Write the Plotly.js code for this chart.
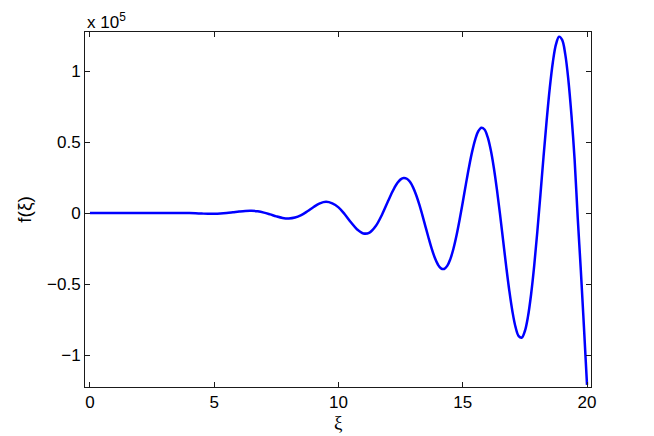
<!DOCTYPE html>
<html>
<head>
<meta charset="utf-8">
<script src="https://cdn.plot.ly/plotly-3.0.1.min.js"></script>
<style>html,body{margin:0;padding:0;background:#fff}#chart{width:654px;height:436px}</style>
</head>
<body>
<div id="chart"></div>
<script>
// ξ values
const xi = [0,0.25,0.5,0.75,1,1.25,1.5,1.75,2,2.25,2.5,2.75,3,3.25,3.5,3.75,4,4.25,4.5,4.75,
  5,5.25,5.5,5.75,6,6.25,6.5,6.75,7,7.25,7.5,7.75,8,8.25,8.5,8.75,9,9.25,9.5,9.75,
  10,10.25,10.5,10.75,11,11.25,11.5,11.75,
  12,12.125,12.25,12.375,12.5,12.625,12.75,12.875,13,13.125,13.25,13.375,13.5,13.625,13.75,13.875,
  14,14.125,14.25,14.375,14.5,14.625,14.75,14.875,15,15.125,15.25,15.375,15.5,15.625,15.75,15.875,
  16,16.125,16.25,16.375,16.5,16.625,16.75,16.875,17,17.125,17.25,17.375,17.5,17.625,17.75,17.875,
  18,18.125,18.25,18.375,18.5,18.625,18.75,18.875,19,19.125,19.25,19.375,19.5,19.625,19.75,19.875,20];
// f(ξ) values
const f = [0,0,0,0,0,-2,-5,-9,-10,-5,11,40,76,107,111,67,-37,-193,-366,-498,
  -514,-354,4,518,1072,1492,1587,1210,322,-961,-2356,-3460,-3844,-3188,-1408,1236,4246,6808,7892,6823,
  3999,-860,-6524,-11537,-14348,-13709,-9132,-1158,
  8620,13450,17796,21321,23715,24725,24170,21960,18107,12744,6104,-1458,-9511,-17552,-25043,-31450,
  -36240,-38999,-39383,-37201,-32408,-25148,-15692,-4558,7655,20213,32279,43060,51741,57612,60093,58800,
  53577,44504,31932,16509,-966,-19487,-37884,-54930,-69459,-80332,-86624,-87663,-83062,-72780,-57180,-37048,
  -13168,12829,39636,65066,87862,106228,118726,124225,121980,111720,93675,68622,37777,-3000,-40000,-80000,-121000];
const xTicks = [0,5,10,15,20];
const yTickVals = [-100000,-50000,0,50000,100000];
const yTickText = ['\u22121','\u22120.5','0','0.5','1'];

const axisCommon = {
  showline:true, linecolor:'#1a1a1a', linewidth:1, mirror:'allticks',
  ticks:'inside', ticklen:5, tickcolor:'#1a1a1a', showgrid:false, zeroline:false,
  tickfont:{family:'Liberation Sans, Arial, sans-serif', size:17, color:'#000'}
};

Plotly.newPlot('chart', [{
  x: xi, y: f, type:'scatter', mode:'lines',
  line:{color:'#0000FF', width:2.5, shape:'spline', smoothing:1}
}], {
  width:654, height:436,
  margin:{l:85, r:63, t:32, b:49},
  paper_bgcolor:'#fff', plot_bgcolor:'#fff',
  showlegend:false,
  xaxis: Object.assign({}, axisCommon, {
    range:[-0.2, 20.16], tickvals:xTicks, ticktext:xTicks.map(String)
  }),
  yaxis: Object.assign({}, axisCommon, {
    range:[-122500, 127500], tickvals:yTickVals, ticktext:yTickText,
    title:{text:'f(\u03be)', font:{family:'Liberation Sans, Arial, sans-serif', size:19, color:'#000'}, standoff:10}
  }),
  annotations:[{
    xref:'paper', yref:'paper', x:0, y:1, xanchor:'left', yanchor:'bottom',
    showarrow:false, yshift:-2,
    text:'x 10<sup>5</sup>', font:{family:'Liberation Sans, Arial, sans-serif', size:17, color:'#000'}
  },{
    xref:'paper', yref:'paper', x:0.5, y:-0.068, xanchor:'center', yanchor:'top',
    showarrow:false, borderpad:0,
    text:'\u03be', font:{family:'Liberation Serif, Times New Roman, serif', size:19, color:'#000'}
  }]
}, {displayModeBar:false, staticPlot:true});
</script>
</body>
</html>
